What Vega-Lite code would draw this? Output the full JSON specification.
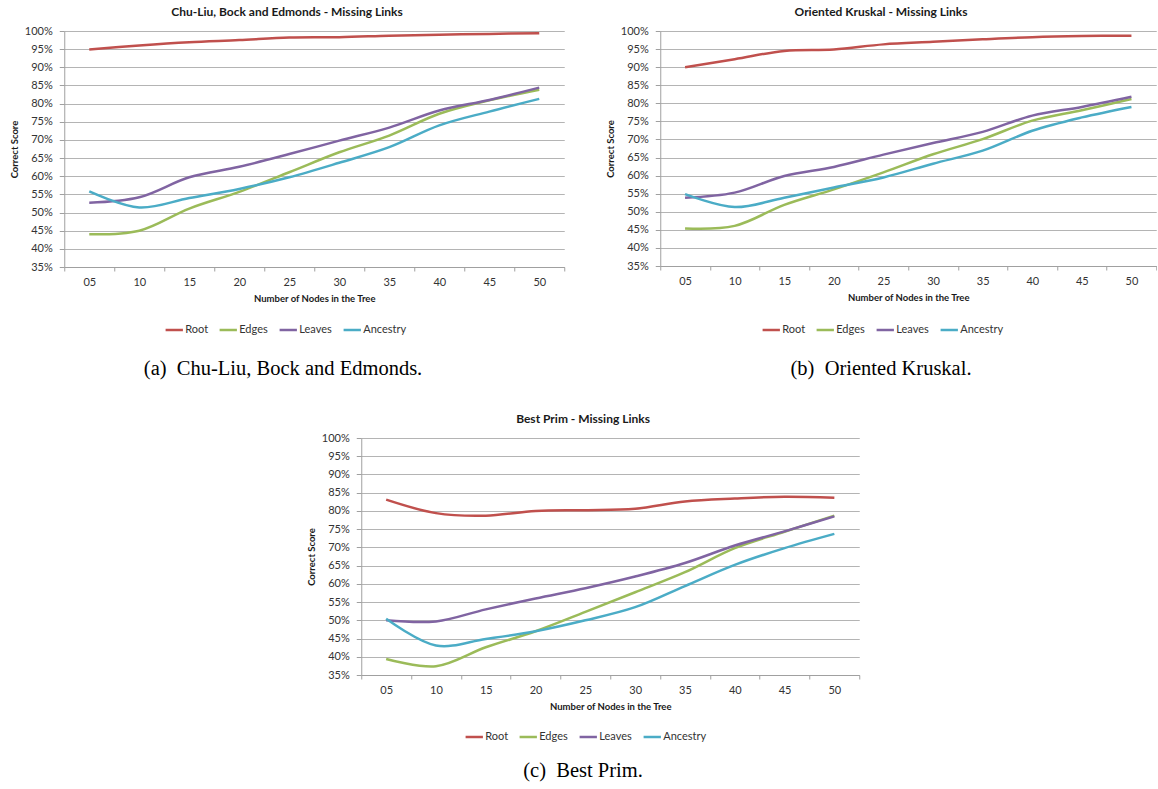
{
"$schema":"https://vega.github.io/schema/vega-lite/v6.json",
"background":"white",
"padding":{"left":9,"top":6,"right":0,"bottom":0},
"datasets":{"d":[
{"algo":"a","series":"Root","n":"05","value":94.9},{"algo":"a","series":"Root","n":"10","value":96.0},{"algo":"a","series":"Root","n":"15","value":96.9},{"algo":"a","series":"Root","n":"20","value":97.5},{"algo":"a","series":"Root","n":"25","value":98.2},{"algo":"a","series":"Root","n":"30","value":98.3},{"algo":"a","series":"Root","n":"35","value":98.7},{"algo":"a","series":"Root","n":"40","value":99.0},{"algo":"a","series":"Root","n":"45","value":99.2},{"algo":"a","series":"Root","n":"50","value":99.4},
{"algo":"a","series":"Edges","n":"05","value":44.0},{"algo":"a","series":"Edges","n":"10","value":45.0},{"algo":"a","series":"Edges","n":"15","value":51.1},{"algo":"a","series":"Edges","n":"20","value":55.7},{"algo":"a","series":"Edges","n":"25","value":61.1},{"algo":"a","series":"Edges","n":"30","value":66.6},{"algo":"a","series":"Edges","n":"35","value":71.2},{"algo":"a","series":"Edges","n":"40","value":77.2},{"algo":"a","series":"Edges","n":"45","value":80.9},{"algo":"a","series":"Edges","n":"50","value":83.8},
{"algo":"a","series":"Leaves","n":"05","value":52.7},{"algo":"a","series":"Leaves","n":"10","value":54.2},{"algo":"a","series":"Leaves","n":"15","value":59.7},{"algo":"a","series":"Leaves","n":"20","value":62.6},{"algo":"a","series":"Leaves","n":"25","value":66.1},{"algo":"a","series":"Leaves","n":"30","value":69.8},{"algo":"a","series":"Leaves","n":"35","value":73.4},{"algo":"a","series":"Leaves","n":"40","value":78.1},{"algo":"a","series":"Leaves","n":"45","value":81.0},{"algo":"a","series":"Leaves","n":"50","value":84.4},
{"algo":"a","series":"Ancestry","n":"05","value":55.8},{"algo":"a","series":"Ancestry","n":"10","value":51.4},{"algo":"a","series":"Ancestry","n":"15","value":54.0},{"algo":"a","series":"Ancestry","n":"20","value":56.5},{"algo":"a","series":"Ancestry","n":"25","value":59.7},{"algo":"a","series":"Ancestry","n":"30","value":63.7},{"algo":"a","series":"Ancestry","n":"35","value":68.0},{"algo":"a","series":"Ancestry","n":"40","value":74.0},{"algo":"a","series":"Ancestry","n":"45","value":77.8},{"algo":"a","series":"Ancestry","n":"50","value":81.3},
{"algo":"b","series":"Root","n":"05","value":90.0},{"algo":"b","series":"Root","n":"10","value":92.2},{"algo":"b","series":"Root","n":"15","value":94.5},{"algo":"b","series":"Root","n":"20","value":94.9},{"algo":"b","series":"Root","n":"25","value":96.3},{"algo":"b","series":"Root","n":"30","value":97.0},{"algo":"b","series":"Root","n":"35","value":97.7},{"algo":"b","series":"Root","n":"40","value":98.3},{"algo":"b","series":"Root","n":"45","value":98.6},{"algo":"b","series":"Root","n":"50","value":98.7},
{"algo":"b","series":"Edges","n":"05","value":45.4},{"algo":"b","series":"Edges","n":"10","value":46.1},{"algo":"b","series":"Edges","n":"15","value":51.9},{"algo":"b","series":"Edges","n":"20","value":56.2},{"algo":"b","series":"Edges","n":"25","value":60.9},{"algo":"b","series":"Edges","n":"30","value":65.9},{"algo":"b","series":"Edges","n":"35","value":70.1},{"algo":"b","series":"Edges","n":"40","value":75.2},{"algo":"b","series":"Edges","n":"45","value":78.1},{"algo":"b","series":"Edges","n":"50","value":81.2},
{"algo":"b","series":"Leaves","n":"05","value":53.9},{"algo":"b","series":"Leaves","n":"10","value":55.3},{"algo":"b","series":"Leaves","n":"15","value":59.9},{"algo":"b","series":"Leaves","n":"20","value":62.4},{"algo":"b","series":"Leaves","n":"25","value":65.8},{"algo":"b","series":"Leaves","n":"30","value":69.0},{"algo":"b","series":"Leaves","n":"35","value":72.1},{"algo":"b","series":"Leaves","n":"40","value":76.6},{"algo":"b","series":"Leaves","n":"45","value":79.0},{"algo":"b","series":"Leaves","n":"50","value":81.8},
{"algo":"b","series":"Ancestry","n":"05","value":54.9},{"algo":"b","series":"Ancestry","n":"10","value":51.3},{"algo":"b","series":"Ancestry","n":"15","value":53.9},{"algo":"b","series":"Ancestry","n":"20","value":56.7},{"algo":"b","series":"Ancestry","n":"25","value":59.5},{"algo":"b","series":"Ancestry","n":"30","value":63.3},{"algo":"b","series":"Ancestry","n":"35","value":66.9},{"algo":"b","series":"Ancestry","n":"40","value":72.4},{"algo":"b","series":"Ancestry","n":"45","value":76.1},{"algo":"b","series":"Ancestry","n":"50","value":79.0},
{"algo":"c","series":"Root","n":"05","value":83.1},{"algo":"c","series":"Root","n":"10","value":79.4},{"algo":"c","series":"Root","n":"15","value":78.7},{"algo":"c","series":"Root","n":"20","value":80.0},{"algo":"c","series":"Root","n":"25","value":80.2},{"algo":"c","series":"Root","n":"30","value":80.6},{"algo":"c","series":"Root","n":"35","value":82.6},{"algo":"c","series":"Root","n":"40","value":83.4},{"algo":"c","series":"Root","n":"45","value":83.9},{"algo":"c","series":"Root","n":"50","value":83.6},
{"algo":"c","series":"Edges","n":"05","value":39.4},{"algo":"c","series":"Edges","n":"10","value":37.4},{"algo":"c","series":"Edges","n":"15","value":42.6},{"algo":"c","series":"Edges","n":"20","value":47.0},{"algo":"c","series":"Edges","n":"25","value":52.3},{"algo":"c","series":"Edges","n":"30","value":57.7},{"algo":"c","series":"Edges","n":"35","value":63.2},{"algo":"c","series":"Edges","n":"40","value":69.8},{"algo":"c","series":"Edges","n":"45","value":74.3},{"algo":"c","series":"Edges","n":"50","value":78.7},
{"algo":"c","series":"Leaves","n":"05","value":50.0},{"algo":"c","series":"Leaves","n":"10","value":49.7},{"algo":"c","series":"Leaves","n":"15","value":53.0},{"algo":"c","series":"Leaves","n":"20","value":56.0},{"algo":"c","series":"Leaves","n":"25","value":58.8},{"algo":"c","series":"Leaves","n":"30","value":62.0},{"algo":"c","series":"Leaves","n":"35","value":65.7},{"algo":"c","series":"Leaves","n":"40","value":70.5},{"algo":"c","series":"Leaves","n":"45","value":74.4},{"algo":"c","series":"Leaves","n":"50","value":78.5},
{"algo":"c","series":"Ancestry","n":"05","value":50.4},{"algo":"c","series":"Ancestry","n":"10","value":43.1},{"algo":"c","series":"Ancestry","n":"15","value":44.9},{"algo":"c","series":"Ancestry","n":"20","value":47.0},{"algo":"c","series":"Ancestry","n":"25","value":50.0},{"algo":"c","series":"Ancestry","n":"30","value":53.6},{"algo":"c","series":"Ancestry","n":"35","value":59.4},{"algo":"c","series":"Ancestry","n":"40","value":65.2},{"algo":"c","series":"Ancestry","n":"45","value":69.8},{"algo":"c","series":"Ancestry","n":"50","value":73.7}
]},
"config":{
 "font":"Lato",
 "view":{"stroke":null},
 "title":{"font":"Lato","fontSize":12,"fontWeight":"bold","color":"#1a1a1a"},
 "axis":{"labelFont":"Lato","titleFont":"Lato","labelColor":"#333333","titleColor":"#1a1a1a","domainColor":"#a0a0a0","tickColor":"#a0a0a0","gridColor":"#b4b4b4","labelFontSize":11,"titleFontSize":9.5,"titleFontWeight":"bold"},
 "legend":{"labelFont":"Lato","labelFontSize":11,"labelColor":"#333333"}
},
"resolve":{"scale":{"color":"independent"},"legend":{"color":"independent"}},
"spacing":33,
"center":true,
"vconcat":[
 {"resolve":{"scale":{"color":"independent"},"legend":{"color":"independent"}},
  "hconcat":[
  {"title":{"text":"(a)\u00a0 Chu-Liu, Bock and Edmonds.","orient":"bottom","anchor":"middle","frame":"bounds","font":"Liberation Serif","fontSize":20.5,"fontWeight":"normal","color":"#000000","offset":24,"dx":-4},
   "vconcat":[{
   "title":{"text":"Chu-Liu, Bock and Edmonds - Missing Links","anchor":"middle","frame":"bounds","offset":6},
   "width":500,"height":236,
   "data":{"name":"d"},
   "transform":[{"filter":"datum.algo === 'a'"}],
   "mark":{"type":"line","interpolate":"catmull-rom","strokeWidth":2.5},
   "encoding":{
    "x":{"field":"n","type":"ordinal","scale":{"type":"band","paddingInner":0,"paddingOuter":0},"title":"Number of Nodes in the Tree","axis":{"labelAngle":0,"tickBand":"extent","tickSize":4,"labelPadding":5,"titlePadding":6,"grid":false}},
    "y":{"field":"value","type":"quantitative","scale":{"domain":[35,100],"nice":false,"zero":false},"title":"Correct Score","axis":{"values":[35,40,45,50,55,60,65,70,75,80,85,90,95,100],"labelExpr":"datum.value + '%'","tickSize":5,"labelPadding":7,"titlePadding":5,"grid":true}},
    "color":{"field":"series","type":"nominal","scale":{"domain":["Root","Edges","Leaves","Ancestry"],"range":["#C0504D","#9BBB59","#8064A2","#4BACC6"]},"legend":{"orient":"none","legendX":100,"legendY":289,"direction":"horizontal","title":null,"symbolType":"stroke","symbolSize":300,"symbolStrokeWidth":2.5,"columnPadding":6,"labelOffset":1}}
   }}]},
  {"title":{"text":"(b)\u00a0 Oriented Kruskal.","orient":"bottom","anchor":"middle","frame":"bounds","font":"Liberation Serif","fontSize":20.5,"fontWeight":"normal","color":"#000000","offset":24},
   "vconcat":[{
   "title":{"text":"Oriented Kruskal - Missing Links","anchor":"middle","frame":"bounds","offset":6},
   "width":496,"height":235,
   "data":{"name":"d"},
   "transform":[{"filter":"datum.algo === 'b'"}],
   "mark":{"type":"line","interpolate":"catmull-rom","strokeWidth":2.5},
   "encoding":{
    "x":{"field":"n","type":"ordinal","scale":{"type":"band","paddingInner":0,"paddingOuter":0},"title":"Number of Nodes in the Tree","axis":{"labelAngle":0,"tickBand":"extent","tickSize":4,"labelPadding":5,"titlePadding":6,"grid":false}},
    "y":{"field":"value","type":"quantitative","scale":{"domain":[35,100],"nice":false,"zero":false},"title":"Correct Score","axis":{"values":[35,40,45,50,55,60,65,70,75,80,85,90,95,100],"labelExpr":"datum.value + '%'","tickSize":5,"labelPadding":7,"titlePadding":5,"grid":true}},
    "color":{"field":"series","type":"nominal","scale":{"domain":["Root","Edges","Leaves","Ancestry"],"range":["#C0504D","#9BBB59","#8064A2","#4BACC6"]},"legend":{"orient":"none","legendX":101,"legendY":289,"direction":"horizontal","title":null,"symbolType":"stroke","symbolSize":300,"symbolStrokeWidth":2.5,"columnPadding":6,"labelOffset":1}}
   }}]}
 ],"spacing":40},
 {"title":{"text":"(c)\u00a0 Best Prim.","orient":"bottom","anchor":"middle","frame":"bounds","font":"Liberation Serif","fontSize":20.5,"fontWeight":"normal","color":"#000000","offset":19},
  "vconcat":[{
  "title":{"text":"Best Prim - Missing Links","anchor":"middle","frame":"bounds","offset":6},
  "width":498,"height":237,
  "data":{"name":"d"},
  "transform":[{"filter":"datum.algo === 'c'"}],
  "mark":{"type":"line","interpolate":"catmull-rom","strokeWidth":2.5},
  "encoding":{
   "x":{"field":"n","type":"ordinal","scale":{"type":"band","paddingInner":0,"paddingOuter":0},"title":"Number of Nodes in the Tree","axis":{"labelAngle":0,"tickBand":"extent","tickSize":4,"labelPadding":5,"titlePadding":6,"grid":false}},
   "y":{"field":"value","type":"quantitative","scale":{"domain":[35,100],"nice":false,"zero":false},"title":"Correct Score","axis":{"values":[35,40,45,50,55,60,65,70,75,80,85,90,95,100],"labelExpr":"datum.value + '%'","tickSize":5,"labelPadding":7,"titlePadding":5,"grid":true}},
   "color":{"field":"series","type":"nominal","scale":{"domain":["Root","Edges","Leaves","Ancestry"],"range":["#C0504D","#9BBB59","#8064A2","#4BACC6"]},"legend":{"orient":"none","legendX":103,"legendY":289,"direction":"horizontal","title":null,"symbolType":"stroke","symbolSize":300,"symbolStrokeWidth":2.5,"columnPadding":6,"labelOffset":1}}
  }}]}
]
}
